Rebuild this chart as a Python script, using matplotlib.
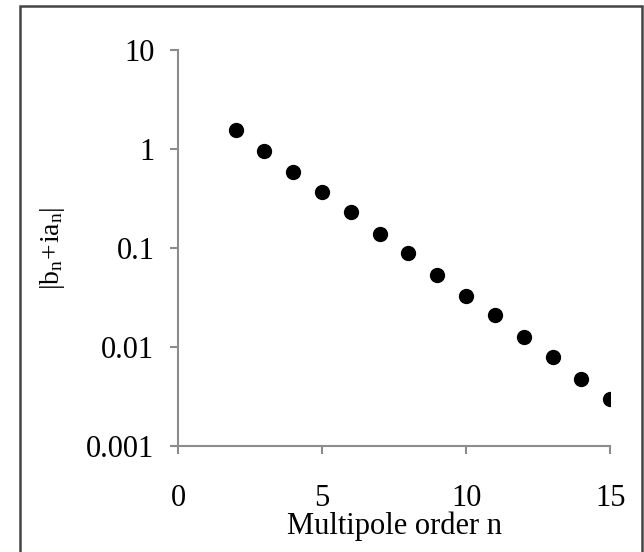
import matplotlib
matplotlib.use('Agg')
import matplotlib.pyplot as plt
from matplotlib.patches import Rectangle

# multipole orders and amplitudes
orders = [2, 3, 4, 5, 6, 7, 8, 9, 10, 11, 12, 13, 14, 15]
amplitudes = [1.55, 0.95, 0.59, 0.37, 0.23, 0.14, 0.089, 0.053,
              0.033, 0.021, 0.0127, 0.0079, 0.0048, 0.0030]
xticks = [0, 5, 10, 15]
yticks = [0.001, 0.01, 0.1, 1, 10]
ytick_labels = ['0.001', '0.01', '0.1', '1', '10']

plt.rcParams['font.family'] = ['Liberation Serif', 'DejaVu Serif']
plt.rcParams['mathtext.fontset'] = 'custom'
plt.rcParams['mathtext.rm'] = 'Liberation Serif'
plt.rcParams['mathtext.it'] = 'Liberation Serif:italic'

fig = plt.figure(figsize=(6.44, 5.52), dpi=100)
ax = fig.add_axes([0.2764, 0.192, 0.671, 0.717])

ax.plot(orders, amplitudes, 'o', color='black', markersize=10)

ax.set_yscale('log')
ax.set_xlim(0, 15)
ax.set_ylim(0.001, 10)
ax.set_xticks(xticks)
ax.set_yticks(yticks)
ax.set_yticklabels(ytick_labels)
ax.minorticks_off()

axis_grey = '#8c8c8c'
for side in ['top', 'right']:
    ax.spines[side].set_visible(False)
for side in ['left', 'bottom']:
    ax.spines[side].set_color(axis_grey)
    ax.spines[side].set_linewidth(1.5)
ax.tick_params(axis='both', direction='out', length=6, width=1.5,
               color=axis_grey, labelsize=22, labelcolor='black')
ax.tick_params(axis='y', pad=11)
ax.tick_params(axis='x', pad=21)

ax.set_xlabel('Multipole order n', fontsize=22, labelpad=-1)
ax.set_ylabel(r'$|\mathrm{b}_\mathrm{n}\!+\!\mathrm{ia}_\mathrm{n}|$', fontsize=20)
ax.yaxis.set_label_coords(-0.258, 0.5)

# frame round the picture (its bottom edge lies below the image)
fig.patches.append(Rectangle((20 / 644, -10 / 552), 622 / 644, 556 / 552,
                             transform=fig.transFigure, fill=False,
                             edgecolor='#444444', linewidth=1.8))

fig.savefig('out.png', dpi=100)
